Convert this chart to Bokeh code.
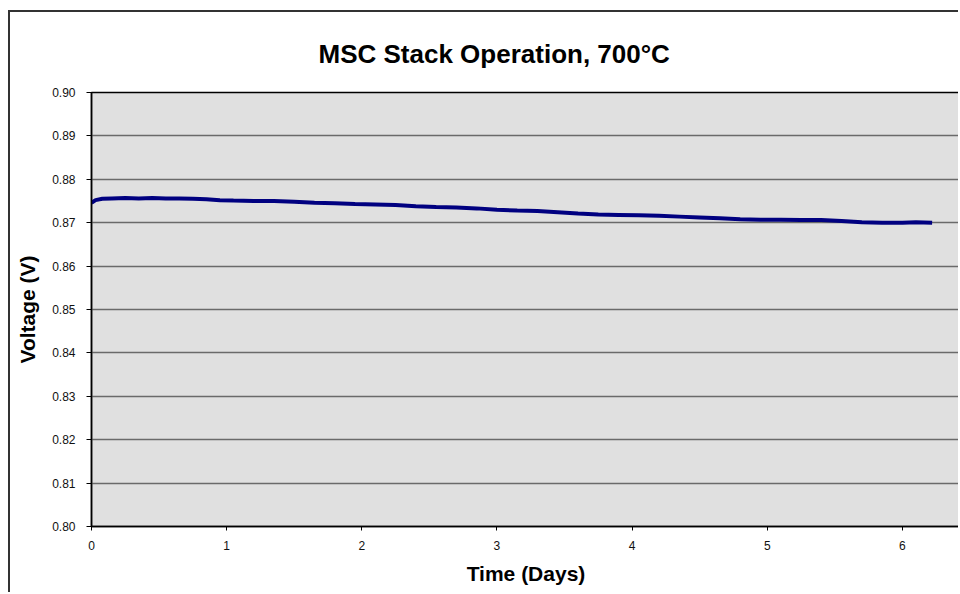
from bokeh.plotting import figure
from bokeh.models import FixedTicker, PrintfTickFormatter, Range1d
from bokeh.embed import file_html
from bokeh.resources import INLINE

# ---- data ----
days = [0.00, 0.03, 0.08, 0.15, 0.25, 0.35, 0.45, 0.55, 0.65, 0.75, 0.85, 0.95,
        1.05, 1.20, 1.35, 1.50, 1.65, 1.80, 1.95, 2.10, 2.25, 2.40, 2.55, 2.70,
        2.85, 3.00, 3.15, 3.30, 3.45, 3.60, 3.75, 3.90, 4.05, 4.20, 4.35, 4.50,
        4.65, 4.80, 4.95, 5.10, 5.25, 5.40, 5.55, 5.70, 5.85, 6.00, 6.10, 6.22]
voltage = [0.8746, 0.8752, 0.8755, 0.8756, 0.8757, 0.8756, 0.8757, 0.8756, 0.8756, 0.8755, 0.8754, 0.8752,
           0.8751, 0.8750, 0.8750, 0.8748, 0.8746, 0.8745, 0.8743, 0.8742, 0.8741, 0.8738, 0.8736, 0.8735,
           0.8733, 0.8730, 0.8728, 0.8727, 0.8724, 0.8721, 0.8719, 0.8718, 0.8717, 0.8716, 0.8714, 0.8712,
           0.8710, 0.8708, 0.8707, 0.8707, 0.8706, 0.8706, 0.8704, 0.8701, 0.8700, 0.8700, 0.8701, 0.8700]

x_ticks = [0, 1, 2, 3, 4, 5, 6]
y_ticks = [0.80, 0.81, 0.82, 0.83, 0.84, 0.85, 0.86, 0.87, 0.88, 0.89, 0.90]
title_text = "MSC Stack Operation, 700°C"
x_label = "Time (Days)"
y_label = "Voltage (V)"

FONT = "Liberation Sans"

p = figure(width=950, height=582, output_backend="svg", toolbar_location=None,
           x_range=Range1d(0, 6.43), y_range=Range1d(0.80, 0.90),
           min_border_left=81, min_border_right=0, min_border_top=80, min_border_bottom=68)

# outer chart border (left and top edges visible in the reference)
p.styles = {"margin-left": "8px", "margin-top": "10px",
            "border-left": "2px solid #333333", "border-top": "2px solid #333333"}

p.background_fill_color = "#e0e0e0"
p.border_fill_color = "white"
p.outline_line_color = "black"
p.outline_line_width = 1.5

p.line(days, voltage, line_color="#000080", line_width=4)

# title
p.title.text = title_text
p.title.align = "left"
p.title.offset = 227
p.title.standoff = 48
p.title.text_font = FONT
p.title.text_font_style = "bold"
p.title.text_font_size = "26px"
p.title.text_color = "black"

# axes
for ax in (p.xaxis[0], p.yaxis[0]):
    ax.axis_line_color = "black"
    ax.axis_line_width = 1.5
    ax.major_tick_line_color = "black"
    ax.major_tick_in = 0
    ax.minor_tick_line_color = None
    ax.major_label_text_font = FONT
    ax.major_label_text_font_size = "12px"
    ax.major_label_text_color = "#111111"
    ax.axis_label_text_font = FONT
    ax.axis_label_text_font_style = "bold"
    ax.axis_label_text_font_size = "21px"
    ax.axis_label_text_color = "black"

p.xaxis.ticker = FixedTicker(ticks=x_ticks)
p.xaxis.major_tick_out = 4
p.xaxis.major_label_standoff = 10
p.xaxis.axis_label = x_label
p.xaxis.axis_label_standoff = 9

p.yaxis.ticker = FixedTicker(ticks=y_ticks)
p.yaxis.formatter = PrintfTickFormatter(format="%.2f")
p.yaxis.major_tick_out = 5
p.yaxis.major_label_standoff = 11
p.yaxis.axis_label = y_label
p.yaxis.axis_label_standoff = 10

p.xgrid.grid_line_color = None
p.ygrid.ticker = FixedTicker(ticks=y_ticks)
p.ygrid.grid_line_color = "#6a6a6a"
p.ygrid.grid_line_width = 1.5

open("out.html", "w").write(file_html(p, INLINE))
